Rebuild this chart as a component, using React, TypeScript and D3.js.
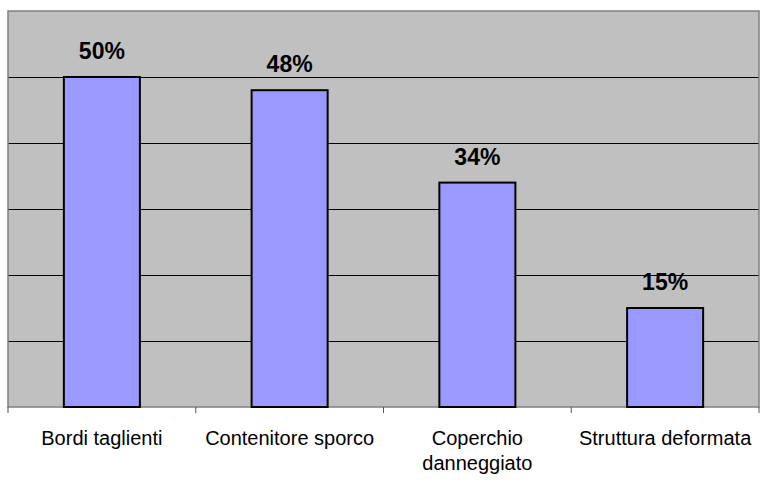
import React, { useEffect, useRef } from 'react';
import * as d3 from 'd3';

const categories = ['Bordi taglienti', 'Contenitore sporco', 'Coperchio danneggiato', 'Struttura deformata'];
const labelLines = [['Bordi taglienti'], ['Contenitore sporco'], ['Coperchio', 'danneggiato'], ['Struttura deformata']];
const values = [0.50, 0.48, 0.34, 0.15];
const yTicks = [0, 0.1, 0.2, 0.3, 0.4, 0.5, 0.6];

const App: React.FC = () => {
    const ref = useRef<SVGSVGElement>(null);

    useEffect(() => {
        if (!ref.current) return;
        const svg = d3.select(ref.current);
        svg.selectAll('*').remove();

        const margin = { top: 11, right: 5, bottom: 79, left: 8 };
        const width = 764 - margin.left - margin.right;
        const height = 486 - margin.top - margin.bottom;

        const g = svg.append('g')
            .attr('transform', `translate(${margin.left},${margin.top})`);

        const x = d3.scaleBand()
            .range([0, width])
            .domain(categories)
            .padding(0);

        const y = d3.scaleLinear()
            .range([height, 0])
            .domain([0, 0.6]);

        // plot background
        g.append('rect')
            .attr('width', width)
            .attr('height', height)
            .attr('fill', '#c0c0c0');

        // gridlines
        g.selectAll('.grid')
            .data(yTicks.slice(1, -1))
            .enter().append('line')
            .attr('x1', 0)
            .attr('x2', width)
            .attr('y1', d => Math.round(y(d)) + 0.5)
            .attr('y2', d => Math.round(y(d)) + 0.5)
            .attr('stroke', '#000')
            .attr('stroke-width', 1);

        // border
        g.append('rect')
            .attr('width', width)
            .attr('height', height)
            .attr('fill', 'none')
            .attr('stroke', '#808080')
            .attr('stroke-width', 1.5);

        // category ticks
        const bounds = categories.map(c => x(c) || 0).concat([width]);
        g.selectAll('.tick')
            .data(bounds)
            .enter().append('line')
            .attr('x1', d => d)
            .attr('x2', d => d)
            .attr('y1', height)
            .attr('y2', height + 6)
            .attr('stroke', '#555')
            .attr('stroke-width', 1);

        const barW = x.bandwidth() * 0.405;

        g.selectAll('.bar')
            .data(values)
            .enter().append('rect')
            .attr('x', (d, i) => (x(categories[i]) || 0) + (x.bandwidth() - barW) / 2)
            .attr('width', barW)
            .attr('y', d => y(d))
            .attr('height', d => height - y(d))
            .attr('fill', '#9999ff')
            .attr('stroke', '#000')
            .attr('stroke-width', 2);

        g.selectAll('.val')
            .data(values)
            .enter().append('text')
            .attr('x', (d, i) => (x(categories[i]) || 0) + x.bandwidth() / 2)
            .attr('y', d => y(d) - 18)
            .attr('text-anchor', 'middle')
            .attr('font-family', 'Liberation Sans, Arial, sans-serif')
            .attr('font-weight', 'bold')
            .attr('font-size', 23)
            .attr('fill', '#000')
            .text(d => `${Math.round(d * 100)}%`);

        const labels = g.selectAll('.lab')
            .data(labelLines)
            .enter().append('text')
            .attr('text-anchor', 'middle')
            .attr('font-family', 'Liberation Sans, Arial, sans-serif')
            .attr('font-size', 20)
            .attr('fill', '#000');

        labels.each(function (lines, i) {
            const cx = (x(categories[i]) || 0) + x.bandwidth() / 2;
            d3.select(this).selectAll('tspan')
                .data(lines)
                .enter().append('tspan')
                .attr('x', cx)
                .attr('y', (l, j) => height + 38 + j * 25)
                .text(l => l);
        });
    }, []);

    return (
        <svg ref={ref} width={764} height={486}
            style={{ position: 'absolute', left: 0, top: 0, background: '#fff' }} />
    );
};

export default App;
